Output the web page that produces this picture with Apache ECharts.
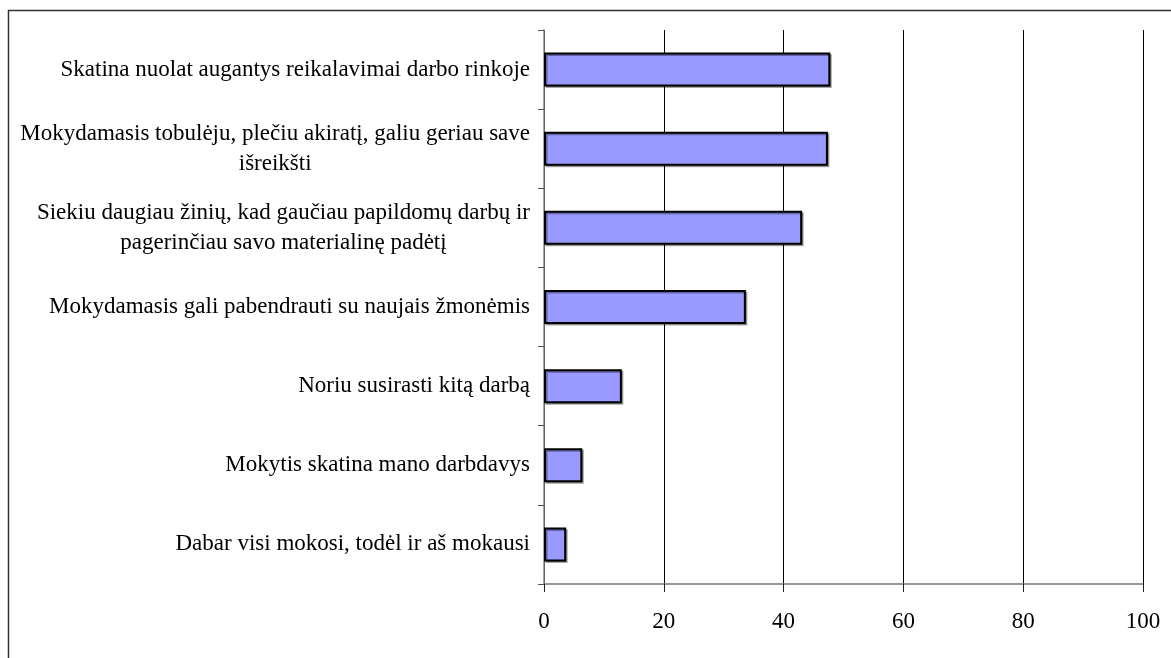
<!DOCTYPE html>
<html>
<head>
<meta charset="utf-8">
<script src="https://cdn.jsdelivr.net/npm/echarts@6/dist/echarts.min.js"></script>
<style>
  html, body { margin: 0; padding: 0; background: #fff; }
  #chart { width: 1171px; height: 658px; }
</style>
</head>
<body>
<div id="chart"></div>
<script>
// kategorijos (iš viršaus į apačią)
const categories = [
  'Skatina nuolat augantys reikalavimai darbo rinkoje',
  'Mokydamasis tobulėju, plečiu akiratį, galiu geriau save\nišreikšti',
  'Siekiu daugiau žinių, kad gaučiau papildomų darbų ir\npagerinčiau savo materialinę padėtį',
  'Mokydamasis gali pabendrauti su naujais žmonėmis',
  'Noriu susirasti kitą darbą',
  'Mokytis skatina mano darbdavys',
  'Dabar visi mokosi, todėl ir aš mokausi'
];
const values = [47.8, 47.4, 43.1, 33.7, 13.0, 6.4, 3.7];
const xTicks = [0, 20, 40, 60, 80, 100];

const font = 'Liberation Serif';
let chart = echarts.init(document.getElementById('chart'));

let option = {
  animation: false,
  backgroundColor: '#fff',
  grid: { left: 544, right: 28, top: 30, bottom: 74 },
  graphic: [{
    type: 'rect',
    shape: { x: 8.5, y: 10.5, width: 1170, height: 660 },
    style: { fill: 'none', stroke: '#333', lineWidth: 1.5 },
    z: 0
  }],
  xAxis: {
    type: 'value',
    min: xTicks[0],
    max: xTicks[xTicks.length - 1],
    interval: 20,
    axisLine: { show: true, lineStyle: { color: '#777', width: 1.5 } },
    axisTick: { show: true, length: 8, lineStyle: { color: '#222' } },
    splitLine: { show: true, lineStyle: { color: '#000', width: 1 } },
    axisLabel: {
      margin: 26,
      color: '#000',
      fontFamily: font,
      fontSize: 23
    }
  },
  yAxis: {
    type: 'category',
    inverse: true,
    data: categories,
    axisLine: { show: true, lineStyle: { color: '#888', width: 1.5 } },
    axisTick: { show: true, length: 6, alignWithLabel: false, lineStyle: { color: '#555' } },
    axisLabel: {
      margin: 14,
      align: 'right',
      color: '#000',
      formatter: function (v) {
        return v.split('\n').map(l => '{c|' + l + '}').join('\n');
      },
      rich: {
        c: { fontFamily: font, fontSize: 23, lineHeight: 30, align: 'center', color: '#000' }
      }
    }
  },
  series: [{
    type: 'bar',
    data: values,
    barWidth: '43%',
    itemStyle: {
      color: '#9999ff',
      borderColor: '#000',
      borderWidth: 2,
      shadowColor: 'rgba(0,0,0,0.35)',
      shadowOffsetX: 1.5,
      shadowOffsetY: 1.5,
      shadowBlur: 0
    }
  }]
};
chart.setOption(option);
</script>
</body>
</html>
